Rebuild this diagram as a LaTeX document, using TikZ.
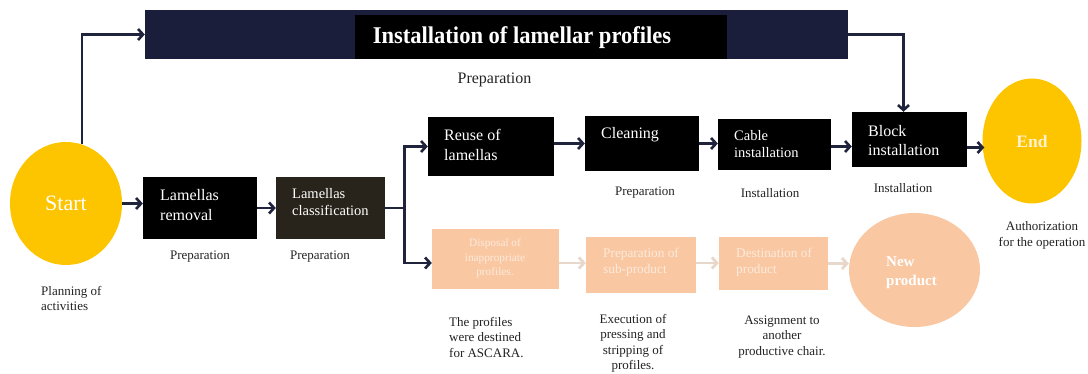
\documentclass[tikz,border=0pt]{standalone}
\usepackage{fontspec}
\setmainfont{Liberation Serif}
\usetikzlibrary{arrows.meta,calc,shapes.geometric}
\definecolor{navy}{RGB}{27,30,58}
\definecolor{arrowc}{RGB}{32,35,60}
\definecolor{sunny}{RGB}{253,196,0}
\definecolor{peach}{RGB}{249,200,163}
\definecolor{peachtext}{RGB}{253,234,220}
\definecolor{fadearrow}{RGB}{232,216,204}
\definecolor{olive}{RGB}{40,36,27}
\definecolor{cream}{RGB}{255,242,205}
\definecolor{labelc}{RGB}{35,35,35}
\begin{document}
\begin{tikzpicture}[x=1pt,y=-1pt,
  blk/.style={rectangle, fill=black, inner sep=0pt, draw=none},
  peachbox/.style={rectangle, fill=peach, inner sep=0pt, draw=none},
  oval/.style={ellipse, inner sep=0pt, draw=none},
  boxtext/.style={text=white, inner sep=0pt, align=left, anchor=west},
  lbl/.style={text=labelc, inner sep=0pt, font=\fontsize{13}{15.5}\selectfont},
  conn/.style={draw=arrowc, line width=2.6pt, -{Straight Barb[length=5pt,width=11pt]}},
  plainconn/.style={draw=arrowc, line width=2.6pt},
  fadeconn/.style={draw=fadearrow, line width=2.8pt, -{Straight Barb[length=5pt,width=11pt]}}
]
\useasboundingbox (0,0) rectangle (1088,374);
\fill[white] (0,0) rectangle (1088,374);

% banner
\node[rectangle, fill=navy, inner sep=0pt, minimum width=703pt, minimum height=49pt] (banner) at (496.5,34.5) {};
\node[blk, minimum width=372pt, minimum height=44pt] (titlebox) at (541,37) {};
\node[text=white, inner sep=0pt] (title) at (522,37.5) {\scalebox{0.94}[1]{\fontsize{24}{24}\selectfont\bfseries Installation of lamellar profiles}};
\node[lbl, font=\fontsize{16}{16}\selectfont] (preptop) at (494.5,80) {Preparation};

% start / end
\node[oval, fill=sunny, minimum width=112pt, minimum height=123pt] (start) at (66,203.5) {};
\node[text=white, inner sep=0pt] (starttext) at (66,203) {\fontsize{22}{22}\selectfont Start};
\node[oval, fill=sunny, minimum width=99pt, minimum height=125pt] (end) at (1032,141) {};
\node[text=cream, inner sep=0pt] (endtext) at (1032,142) {\fontsize{17.5}{17.5}\selectfont\bfseries End};

% upper row boxes
\node[blk, minimum width=114pt, minimum height=62pt] (removal) at (200,208) {};
\node[boxtext, font=\fontsize{16}{19.5}\selectfont] (removaltext) at (160,205) {Lamellas\\removal};
\node[rectangle, fill=olive, inner sep=0pt, minimum width=109pt, minimum height=62pt] (classif) at (330.5,208) {};
\node[boxtext, font=\fontsize{14.5}{17}\selectfont] (classiftext) at (292,202.5) {Lamellas\\classification};
\node[blk, minimum width=126pt, minimum height=59pt] (reuse) at (491,146.5) {};
\node[boxtext, font=\fontsize{16}{20}\selectfont] (reusetext) at (444,145) {Reuse of\\lamellas};
\node[blk, minimum width=114pt, minimum height=55pt] (cleaning) at (642,143.5) {};
\node[boxtext, font=\fontsize{16}{19}\selectfont] (cleaningtext) at (601,135) {Cleaning};
\node[blk, minimum width=113pt, minimum height=51pt] (cable) at (774.5,144.5) {};
\node[boxtext, font=\fontsize{14.5}{16.5}\selectfont] (cabletext) at (734,144) {Cable\\installation};
\node[blk, minimum width=115pt, minimum height=55pt] (block) at (909.5,139.5) {};
\node[boxtext, font=\fontsize{16}{19}\selectfont] (blocktext) at (868,140.5) {Block\\installation};

% lower row
\node[peachbox, minimum width=127pt, minimum height=60pt] (disposal) at (495.5,259) {};
\node[text=peachtext, inner sep=0pt, align=center, font=\fontsize{11.3}{14.5}\selectfont] (disposaltext) at (495,258.5) {Disposal of\\inappropriate\\profiles.};
\node[peachbox, minimum width=110pt, minimum height=56pt] (prep) at (641,265) {};
\node[boxtext, text=peachtext, font=\fontsize{13.3}{16}\selectfont] (preptext) at (603,262) {Preparation of\\sub-product};
\node[peachbox, minimum width=109pt, minimum height=53pt] (dest) at (773.5,263.5) {};
\node[boxtext, text=peachtext, font=\fontsize{13.3}{16}\selectfont] (desttext) at (736,262) {Destination of\\product};
\node[oval, fill=peach, minimum width=131pt, minimum height=114pt] (newp) at (914.5,270) {};
\node[boxtext, font=\fontsize{15}{19}\selectfont\bfseries] (newptext) at (886,272.5) {New\\product};

% labels
\node[lbl, align=left, anchor=west] (planning) at (41,298.5) {Planning of\\activities};
\node[lbl] (prep1) at (200,257) {Preparation};
\node[lbl] (prep2) at (320,257) {Preparation};
\node[lbl] (prep3) at (645,193) {Preparation};
\node[lbl] (inst1) at (770,193) {Installation};
\node[lbl] (inst2) at (903,188) {Installation};
\node[lbl, align=center] (auth) at (1042,235.5) {Authorization\\for the operation};
\node[lbl, align=left, anchor=west] (profiles) at (449,337.5) {The profiles\\were destined\\for ASCARA.};
\node[lbl, align=center] (exec) at (633,343.5) {Execution of\\pressing and\\stripping of\\profiles.};
\node[lbl, align=center] (assign) at (782,337) {Assignment to\\another\\productive chair.};

% connectors
\draw[conn] (start.75) |- (banner.west);
\draw[conn] (banner.east) -| ($(block.north)+(-6,0)$);
\draw[conn] (start.east) -- (start.east -| removal.west);
\draw[conn] (removal.east) -- (classif.west);
\coordinate (branch) at ($(classif.east)+(19,0)$);
\draw[plainconn] (classif.east) -- (branch);
\draw[conn] (branch) |- (reuse.west);
\draw[conn] (branch) |- ($(disposal.west)+(0,4)$);
\draw[conn] (reuse.east |- cleaning.west) -- (cleaning.west);
\draw[conn] (cleaning.east) -- (cleaning.east -| cable.west);
\draw[conn] ($(cable.east)+(0,2)$) -- ($(cable.east -| block.west)+(0,2)$);
\draw[conn] ($(block.east)+(0,8)$) -- ($(block.east -| end.west)+(2,8)$);
\draw[fadeconn] ($(disposal.east)+(0,4)$) -- ($(disposal.east -| prep.west)+(0,4)$);
\draw[fadeconn] ($(prep.east)+(0,-2)$) -- ($(prep.east -| dest.west)+(0,-2)$);
\draw[fadeconn] (dest.east) -- (dest.east -| newp.west);
\end{tikzpicture}
\end{document}
